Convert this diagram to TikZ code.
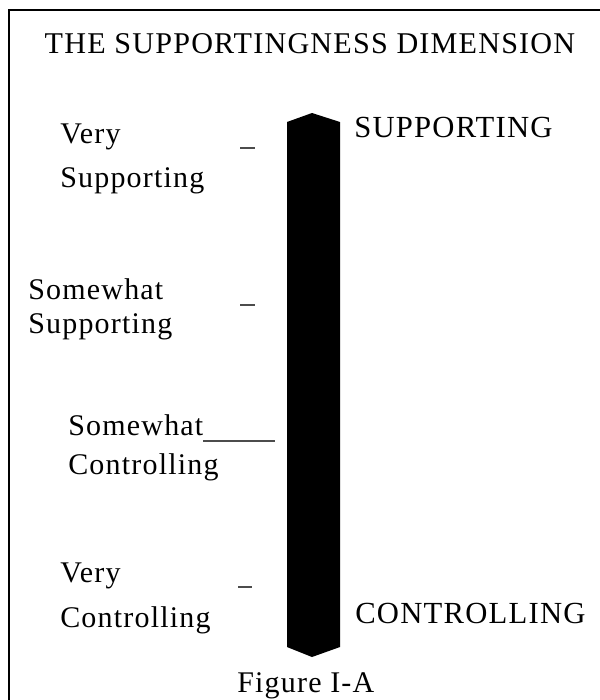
\documentclass[tikz,border=0pt]{standalone}
\usepackage{fontspec}
\setmainfont{Liberation Serif}[LetterSpace=4]

\begin{document}
\begin{tikzpicture}[x=0.75pt, y=-0.75pt,
    lbl/.style={inner sep=0pt, anchor=base west, font=\fontsize{22.5}{27}\selectfont},
    caps/.style={lbl, font=\fontsize{23}{27}\selectfont},
    dashmark/.style={draw=black!70, line width=0.8pt}]
    \useasboundingbox (0,0) rectangle (600,700);
    % frame (right and bottom sides are cut off)
    \draw[line width=1.5pt] (9,700) -- (9,10) -- (600,10);
    \node[lbl, anchor=base, font=\fontsize{22.6}{27}\selectfont] (title) at (310,53) {THE SUPPORTINGNESS DIMENSION};
    % the scale bar
    \fill (287,122) -- (312,113) -- (340,122) -- (340,647) -- (312,657) -- (287,647) -- cycle;
    \node[caps] (top) at (354,137) {SUPPORTING};
    \node[caps] (bottom) at (355,623) {CONTROLLING};
    % left side labels
    \node[lbl] (vs1) at (60,143) {Very};
    \node[lbl] (vs2) at (60,187) {Supporting};
    \node[lbl] (ss1) at (28,299) {Somewhat};
    \node[lbl] (ss2) at (28,333) {Supporting};
    \node[lbl] (sc1) at (68,435) {Somewhat};
    \node[lbl] (sc2) at (68,474) {Controlling};
    \node[lbl] (vc1) at (60,582) {Very};
    \node[lbl] (vc2) at (60,627) {Controlling};
    % marks
    \coordinate (m1) at (240,148);
    \coordinate (m2) at (240,305);
    \coordinate (m3) at (203,441);
    \coordinate (m4) at (238,587);
    \draw[dashmark] (m1) -- ++(15,0);
    \draw[dashmark] (m2) -- ++(15,0);
    \draw[dashmark] (m3) -- ++(72,0);
    \draw[dashmark] (m4) -- ++(14,0);
    \node[lbl] (caption) at (237,692) {Figure I-A};
\end{tikzpicture}
\end{document}
